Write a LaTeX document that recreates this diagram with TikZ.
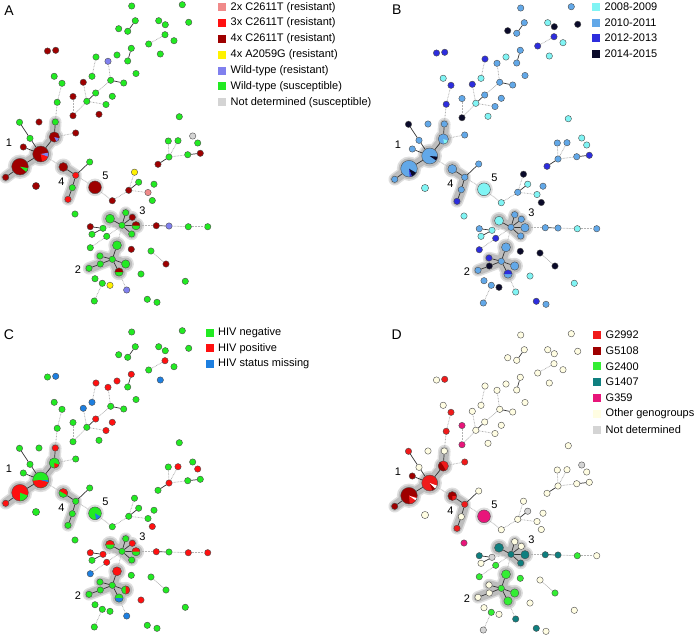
\documentclass[tikz,border=0pt]{standalone}
\usepackage{fontspec}
\setmainfont{Liberation Sans}
\pgfdeclarelayer{bg}
\pgfsetlayers{bg,main}
\definecolor{gr}{HTML}{22EA22}
\definecolor{rd}{HTML}{FF1010}
\definecolor{dr}{HTML}{9E0000}
\definecolor{pk}{HTML}{F08A8A}
\definecolor{ye}{HTML}{FFF200}
\definecolor{vi}{HTML}{8080EE}
\definecolor{ng}{HTML}{D4D4D4}
\definecolor{y1}{HTML}{80F4F4}
\definecolor{y2}{HTML}{62A8E8}
\definecolor{y3}{HTML}{2D2DDD}
\definecolor{y4}{HTML}{0A0A2A}
\definecolor{hn}{HTML}{22EA22}
\definecolor{hp}{HTML}{FF1010}
\definecolor{hm}{HTML}{1E7FE0}
\definecolor{g1}{HTML}{F01A1A}
\definecolor{g2}{HTML}{9E0000}
\definecolor{g3}{HTML}{33EE33}
\definecolor{g4}{HTML}{0F7F7F}
\definecolor{g5}{HTML}{E8157A}
\definecolor{go}{HTML}{FFFDE2}
\definecolor{gd}{HTML}{D4D4D4}
\definecolor{clin}{HTML}{BDBDBD}
\definecolor{clout}{HTML}{DEDEDE}
\newcount\pidx
\tikzset{
  nd/.style={circle,draw=black!70,line width=0.4pt,inner sep=0pt},
  es/.style={draw=black!80,line width=0.7pt},
  ed/.style={draw=black!30,line width=0.8pt,dash pattern=on 0.7pt off 0.8pt},
  lab/.style={inner sep=0pt,font=\fontsize{11}{13}\selectfont},
  legsq/.style={draw=none,minimum size=8pt,inner sep=0pt},
  legtx/.style={inner sep=0pt,anchor=west,font=\fontsize{11}{13}\selectfont},
  plet/.style={inner sep=0pt,font=\fontsize{14}{16}\selectfont},
}
\newcommand\Nd[8]{\ifcase\pidx\def\cc{#5}\or\def\cc{#6}\or\def\cc{#7}\or\def\cc{#8}\fi
  \node[nd,minimum size={2*#4pt},fill=\cc] (n#1) at (#2,#3) {};}
\newcommand\pbase[1]{\fill[#1] (\px,\py) circle[radius=\pr pt];}
\newcommand\pwedge[3]{\fill[#1] (\px,\py) -- ++(#2:\pr pt) arc[start angle=#2,end angle=#3,radius=\pr pt] -- cycle;}
\newcommand\Pd[8]{\ifcase\pidx\def\spec{#5}\or\def\spec{#6}\or\def\spec{#7}\or\def\spec{#8}\fi
  \def\px{#2}\def\py{#3}\def\pr{#4}\spec
  \node[nd,minimum size={2*#4pt}] (n#1) at (#2,#3) {};}
\newcommand\eS[2]{\draw[es] (n#1) -- (n#2);}
\newcommand\eD[2]{\draw[ed] (n#1) -- (n#2);}
\def\rr{3.2}
\newcommand\drawtree{%
\Nd{1}{131.7}{6}{\rr}{gr}{y2}{hn}{go}
\Nd{2}{182.3}{4.7}{\rr}{gr}{y2}{hn}{go}
\Nd{3}{135.3}{20.7}{\rr}{gr}{y2}{hn}{go}
\Nd{4}{127.7}{31.3}{\rr}{gr}{y2}{hn}{go}
\Nd{5}{118.7}{28.7}{\rr}{gr}{y4}{hn}{go}
\Nd{6}{158.7}{20.7}{\rr}{gr}{y1}{hn}{go}
\Nd{7}{165.3}{24.7}{\rr}{gr}{y4}{hn}{go}
\Nd{8}{188.7}{22.3}{\rr}{gr}{y4}{hn}{go}
\Nd{9}{165}{34.7}{\rr}{gr}{y3}{hp}{go}
\Nd{10}{148.7}{44}{\rr}{gr}{y3}{hn}{go}
\Nd{11}{174}{40.7}{\rr}{gr}{y1}{hn}{go}
\Nd{12}{47.5}{51}{\rr}{dr}{y3}{hn}{go}
\Nd{13}{55.7}{50.3}{\rr}{dr}{y3}{hm}{g1}
\Nd{14}{96}{57}{\rr}{gr}{y3}{hp}{go}
\Nd{15}{108}{61.3}{\rr}{vi}{y2}{hp}{go}
\Nd{16}{117}{55}{\rr}{gr}{y1}{hp}{go}
\Nd{17}{131.3}{48.3}{\rr}{gr}{y2}{hp}{go}
\Nd{18}{127.7}{61}{\rr}{gr}{y2}{hn}{go}
\Nd{19}{160.3}{54}{\rr}{gr}{y1}{hm}{go}
\Nd{20}{136}{73.5}{\rr}{gr}{y2}{hn}{go}
\Nd{21}{54.2}{76.3}{\rr}{gr}{y1}{hn}{go}
\Nd{22}{62}{83.3}{\rr}{gr}{y3}{hn}{g1}
\Nd{23}{83.3}{82.3}{\rr}{dr}{y3}{hm}{go}
\Nd{24}{92}{76.3}{\rr}{gr}{y1}{hm}{go}
\Nd{25}{110.7}{80.3}{\rr}{gr}{y2}{hn}{go}
\Nd{26}{123.7}{83}{\rr}{gr}{y2}{hn}{go}
\Nd{27}{95.7}{93}{\rr}{gr}{y2}{hp}{go}
\Nd{28}{112.3}{96.3}{\rr}{gr}{y2}{hp}{go}
\Nd{29}{86.8}{101.3}{\rr}{gr}{y1}{hn}{go}
\Nd{30}{106}{104.5}{\rr}{gr}{y2}{hp}{go}
\Nd{31}{73}{96.5}{\rr}{dr}{y2}{hn}{g5}
\Nd{32}{73}{115.7}{\rr}{dr}{y4}{hn}{g5}
\Nd{33}{99}{114.3}{\rr}{dr}{y1}{hn}{go}
\Nd{34}{57.2}{102.3}{\rr}{gr}{y3}{hn}{g1}
\Nd{35}{55.3}{122}{\rr}{gr}{y2}{hp}{go}
\Nd{36}{39}{122}{\rr}{dr}{y2}{hn}{go}
\Nd{37}{19.5}{122.3}{\rr}{gr}{y4}{hn}{g1}
\Pd{38}{54.3}{137}{5.2}{\pbase{dr}\pwedge{vi}{-65}{-15}}{\pbase{y2}\pwedge{y1}{-80}{-20}}{\pbase{hn}\pwedge{hp}{-90}{-20}}{\pbase{g1}\pwedge{g2}{125}{300}}
\Nd{39}{75.7}{133}{\rr}{dr}{y2}{hn}{g1}
\Nd{40}{30}{138.3}{\rr}{gr}{y2}{hn}{go}
\Nd{41}{23.3}{147}{\rr}{dr}{y2}{hn}{g2}
\Pd{42}{40.7}{154}{8}{\pbase{dr}\pwedge{rd}{-80}{-20}\pwedge{vi}{-20}{10}}{\pbase{y2}\pwedge{y4}{-35}{-5}}{\pbase{hn}\pwedge{hp}{185}{345}\pwedge{hm}{345}{360}}{\pbase{g1}\pwedge{g2}{-70}{-45}\pwedge{white}{-45}{-20}}
\Pd{43}{20}{166.7}{8.3}{\pbase{dr}\pwedge{gr}{-40}{-10}}{\pbase{y2}\pwedge{y4}{-70}{-30}\pwedge{y3}{-85}{-70}}{\pbase{hp}\pwedge{hn}{-90}{-20}}{\pbase{g2}\pwedge{g1}{-85}{-10}\pwedge{white}{-35}{-18}}
\Nd{44}{5.7}{177.3}{\rr}{dr}{y2}{hp}{g2}
\Nd{45}{36}{186}{3.6}{dr}{y1}{hn}{go}
\Pd{46}{63.3}{167}{4.5}{\pbase{dr}}{\pbase{y2}}{\pbase{hn}\pwedge{hp}{-30}{150}}{\pbase{g2}\pwedge{g1}{-90}{0}}
\Nd{47}{89.7}{162}{\rr}{gr}{y2}{hn}{go}
\Nd{48}{75.7}{175.3}{\rr}{rd}{y2}{hn}{g1}
\Nd{49}{72.3}{187.7}{\rr}{gr}{y2}{hn}{go}
\Nd{50}{68}{199.3}{\rr}{rd}{y3}{hn}{g1}
\Pd{51}{95}{187.3}{6.4}{\pbase{dr}}{\pbase{y1}}{\pbase{hn}\pwedge{hm}{-80}{-30}}{\pbase{g5}}
\Nd{52}{112.3}{200.7}{\rr}{dr}{y1}{hn}{go}
\Nd{53}{128.7}{190.3}{\rr}{dr}{y2}{hn}{go}
\Nd{54}{134.5}{172.2}{\rr}{ye}{y4}{hn}{go}
\Nd{55}{138.7}{182.2}{\rr}{gr}{y1}{hn}{gd}
\Nd{56}{148}{192.5}{\rr}{pk}{y1}{hn}{go}
\Nd{57}{154}{184.2}{\rr}{gr}{y2}{hn}{go}
\Nd{58}{152.3}{200.5}{\rr}{gr}{y4}{hp}{go}
\Nd{59}{179.3}{116.7}{\rr}{gr}{y1}{hn}{go}
\Nd{60}{192.7}{136}{\rr}{ng}{y1}{hn}{gd}
\Nd{61}{168.3}{141}{\rr}{gr}{y2}{hn}{go}
\Nd{62}{178}{140.7}{\rr}{gr}{y2}{hp}{go}
\Nd{63}{197.7}{143}{\rr}{gr}{y1}{hp}{go}
\Nd{64}{169}{157}{\rr}{gr}{y2}{hp}{go}
\Nd{65}{158}{164.3}{\rr}{dr}{y3}{hn}{go}
\Nd{66}{187.7}{154.7}{\rr}{gr}{y2}{hn}{go}
\Nd{67}{200.3}{153.3}{\rr}{dr}{y3}{hn}{go}
\Nd{68}{75}{214}{\rr}{gr}{y1}{hn}{g5}
\Nd{69}{125.7}{212.7}{\rr}{gr}{y2}{hn}{go}
\Pd{70}{110}{218.7}{4.5}{\pbase{gr}}{\pbase{y1}}{\pbase{hn}\pwedge{hp}{0}{180}}{\pbase{g4}}
\Nd{71}{132.3}{217.3}{\rr}{dr}{y2}{hp}{go}
\Nd{72}{122}{225.3}{\rr}{gr}{y2}{hn}{g4}
\Pd{73}{136}{225.7}{4.2}{\pbase{gr}\pwedge{dr}{0}{180}}{\pbase{y2}}{\pbase{hn}\pwedge{hp}{0}{180}}{\pbase{g4}}
\Nd{74}{131.7}{234}{\rr}{gr}{y2}{hn}{g4}
\Nd{75}{90.3}{226.7}{\rr}{dr}{y2}{hp}{g4}
\Nd{76}{103}{228.3}{\rr}{gr}{y1}{hp}{gd}
\Nd{77}{92}{234.3}{\rr}{gr}{y1}{hn}{go}
\Nd{78}{106.7}{236.3}{\rr}{gr}{y3}{hp}{g3}
\Nd{79}{156.3}{225.7}{\rr}{dr}{y2}{hp}{g4}
\Nd{80}{169}{226}{\rr}{vi}{y2}{hn}{g4}
\Nd{81}{188.3}{226.7}{\rr}{gr}{y1}{hp}{g3}
\Nd{82}{207.7}{226.7}{\rr}{gr}{y2}{hp}{go}
\Nd{83}{90.3}{247.7}{\rr}{gr}{y3}{hm}{g3}
\Nd{84}{117}{245.3}{4.5}{gr}{y2}{hp}{g3}
\Nd{85}{131.3}{249.3}{\rr}{dr}{y4}{hn}{g3}
\Nd{86}{151}{251}{\rr}{gr}{y4}{hn}{go}
\Nd{87}{166}{264}{\rr}{dr}{y4}{hn}{g3}
\Nd{88}{100}{256}{\rr}{gr}{y3}{hn}{go}
\Nd{89}{112.3}{259.3}{\rr}{gr}{y2}{hn}{g3}
\Nd{90}{100.3}{264}{\rr}{gr}{y4}{hn}{go}
\Nd{91}{89}{268.3}{\rr}{gr}{y2}{hn}{go}
\Pd{92}{125.7}{264}{4.2}{\pbase{gr}}{\pbase{y2}}{\pbase{hn}\pwedge{hp}{-90}{90}}{\pbase{g3}}
\Pd{93}{119}{272}{4.2}{\pbase{gr}\pwedge{dr}{0}{180}}{\pbase{y2}\pwedge{y3}{0}{180}}{\pbase{hn}\pwedge{hm}{180}{360}}{\pbase{g3}}
\Nd{94}{141}{274}{\rr}{gr}{y1}{hp}{go}
\Nd{95}{185.3}{281.3}{\rr}{gr}{y1}{hn}{go}
\Nd{96}{95}{278.7}{\rr}{gr}{y2}{hn}{go}
\Nd{97}{102.3}{283.3}{\rr}{gr}{y2}{hn}{g3}
\Nd{98}{110}{285.3}{\rr}{ye}{y4}{hn}{go}
\Nd{99}{126.7}{290}{\rr}{vi}{y1}{hm}{g4}
\Nd{100}{94.3}{301}{\rr}{gr}{y2}{hn}{gd}
\Nd{101}{147.3}{299.3}{\rr}{gr}{y3}{hn}{g4}
\Nd{102}{157}{302.3}{\rr}{gr}{y2}{hn}{go}
% edges
\eS{3}{4}\eS{17}{18}\eS{25}{26}\eS{27}{29}\eS{37}{40}\eS{40}{42}\eS{41}{42}
\eS{35}{38}\eS{38}{42}\eS{42}{43}\eS{43}{44}\eS{46}{48}\eS{47}{48}\eS{48}{49}\eS{49}{50}
\eS{53}{55}\eS{64}{65}\eS{66}{67}
\eS{72}{70}\eS{72}{69}\eS{72}{71}\eS{72}{73}\eS{72}{74}
\eS{75}{76}\eS{76}{77}\eS{79}{80}
\eS{89}{84}\eS{89}{88}\eS{89}{90}\eS{89}{92}\eS{89}{93}\eS{90}{91}
\eD{9}{10}\eD{14}{24}\eD{15}{25}\eD{25}{27}\eD{23}{29}\eD{29}{30}\eD{29}{32}\eD{31}{32}
\eD{22}{34}\eD{34}{35}\eD{38}{39}\eD{42}{46}\eD{48}{51}\eD{51}{52}\eD{52}{53}\eD{53}{54}\eD{53}{56}
\eD{64}{61}\eD{64}{62}\eD{64}{66}\eD{72}{76}\eD{72}{78}\eD{72}{84}\eD{78}{83}\eD{73}{79}
\eD{80}{81}\eD{81}{82}\eD{93}{99}\eD{86}{87}\eD{97}{100}
% cluster shapes
\begin{pgfonlayer}{bg}
\foreach \ww/\cl/\ex in {12.5/clout/1.7,9.5/clin/0}{
  \draw[line width=\ww pt,\cl,line cap=round,line join=round]
     (n44.center) -- (n43.center) -- (n42.center) -- (n38.center) -- (n35.center);
  \fill[\cl] (n43.center) circle[radius={10.5+\ex}] (n42.center) circle[radius={10.5+\ex}]
     (n38.center) circle[radius={7.5+\ex}];
  \draw[line width=\ww pt,\cl,line cap=round,line join=round]
     (n46.center) -- (n48.center) -- (n49.center) -- (n50.center);
  \fill[\cl] (n46.center) circle[radius={6.8+\ex}];
  \draw[line width=\ww pt,\cl,line cap=round,line join=round]
     (n70.center) -- (n72.center) -- (n73.center) (n69.center) -- (n72.center) -- (n74.center)
     (n71.center) -- (n72.center);
  \fill[\cl] (n70.center) circle[radius={7+\ex}] (n73.center) circle[radius={6.5+\ex}];
  \draw[line width=\ww pt,\cl,line cap=round,line join=round]
     (n84.center) -- (n89.center) -- (n93.center) (n88.center) -- (n89.center) -- (n92.center)
     (n91.center) -- (n90.center) -- (n89.center);
  \fill[\cl] (n84.center) circle[radius={7+\ex}] (n92.center) circle[radius={6.5+\ex}]
     (n93.center) circle[radius={6.5+\ex}];
}
\fill[clout] (n51.center) circle[radius=8.8];
\end{pgfonlayer}
\node[lab] (k1) at (9,143) {1};
\node[lab] (k2) at (78,270) {2};
\node[lab] (k3) at (142.5,211) {3};
\node[lab] (k4) at (61.5,182) {4};
\node[lab] (k5) at (105.5,176) {5};
}
\newcommand\leg[5]{\node[legsq,fill=#4] (#1) at (#2,#3) {};
  \node[legtx] (#1t) at ({#2+8.5},#3) {#5};}
\begin{document}
\begin{tikzpicture}[x=1pt,y=-1pt]
\useasboundingbox (0,0) rectangle (696,638);
\pidx=0\relax
\begin{scope}[name prefix=A-]\drawtree\end{scope}
\pidx=1\relax
\begin{scope}[shift={(389,2)},name prefix=B-]\drawtree\end{scope}
\pidx=2\relax
\begin{scope}[shift={(0,326)},name prefix=C-]\drawtree\end{scope}
\pidx=3\relax
\begin{scope}[shift={(389,329)},name prefix=D-]\drawtree\end{scope}
% panel letters
\node[plet] (pA) at (9,11) {A};
\node[plet] (pB) at (396.7,9.5) {B};
\node[plet] (pC) at (9,335) {C};
\node[plet] (pD) at (396.7,335) {D};
% legends
\leg{la1}{222}{7.3}{pk}{2x C2611T (resistant)}
\leg{la2}{222}{23.1}{rd}{3x C2611T (resistant)}
\leg{la3}{222}{38.9}{dr}{4x C2611T (resistant)}
\leg{la4}{222}{54.8}{ye}{4x A2059G (resistant)}
\leg{la5}{222}{70.6}{vi}{Wild-type (resistant)}
\leg{la6}{222}{86.4}{gr}{Wild-type (susceptible)}
\leg{la7}{222}{102.2}{ng}{Not determined (susceptible)}
\leg{lb1}{596}{6.9}{y1}{2008-2009}
\leg{lb2}{596}{22.5}{y2}{2010-2011}
\leg{lb3}{596}{38.1}{y3}{2012-2013}
\leg{lb4}{596}{53.7}{y4}{2014-2015}
\leg{lc1}{209.5}{332.7}{hn}{HIV negative}
\leg{lc2}{209.5}{348.3}{hp}{HIV positive}
\leg{lc3}{209.5}{364}{hm}{HIV status missing}
\leg{ld1}{597}{334.7}{g1}{G2992}
\leg{ld2}{597}{350.5}{g2}{G5108}
\leg{ld3}{597}{366.3}{g3}{G2400}
\leg{ld4}{597}{382.1}{g4}{G1407}
\leg{ld5}{597}{397.9}{g5}{G359}
\leg{ld6}{597}{413.7}{go}{Other genogroups}
\leg{ld7}{597}{429.5}{gd}{Not determined}
\end{tikzpicture}
\end{document}
